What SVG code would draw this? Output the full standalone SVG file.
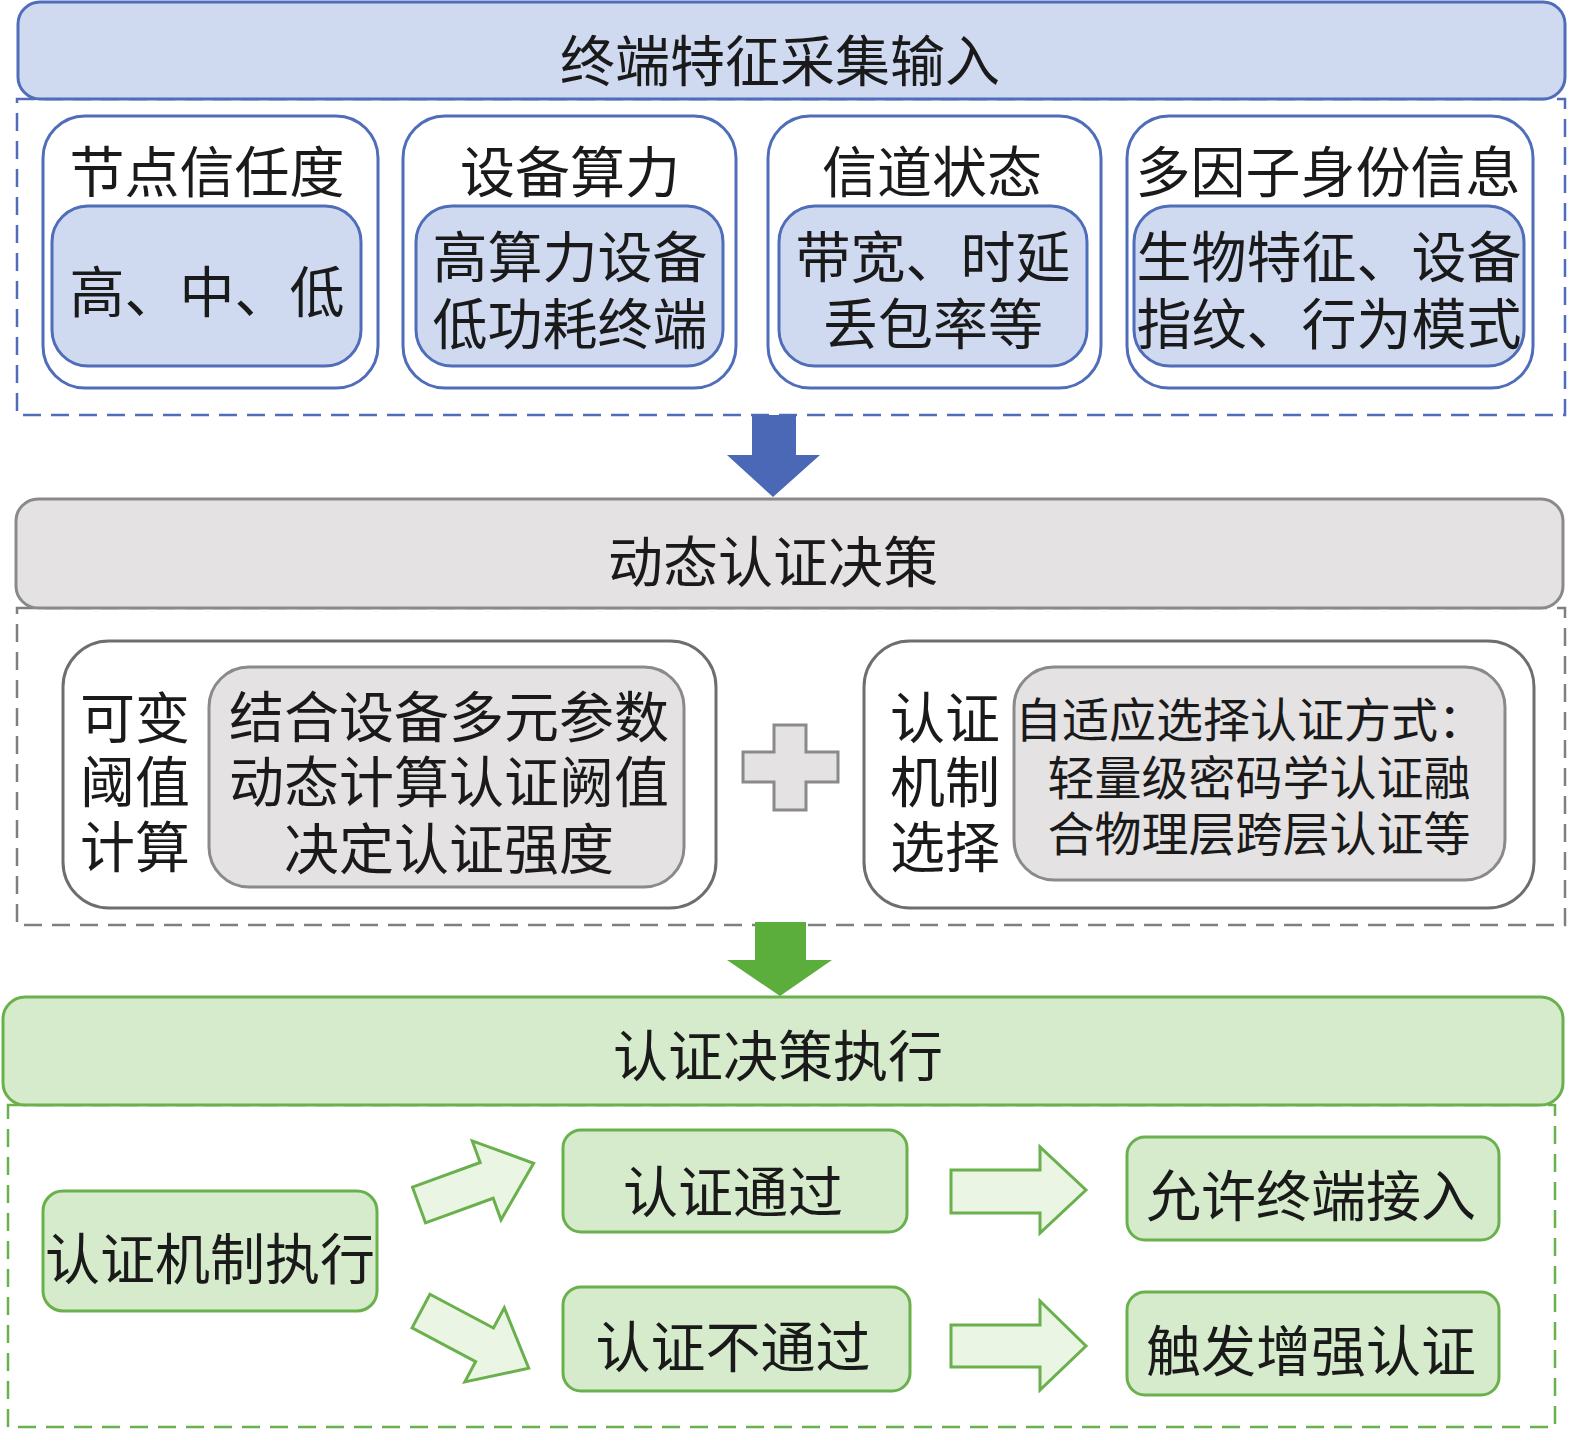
<svg xmlns="http://www.w3.org/2000/svg" width="1575" height="1435" viewBox="0 0 1575 1435">
<style>
text{font-family:"Noto Sans CJK SC","Noto Sans",sans-serif;fill:#1a1a1a;text-anchor:middle;dominant-baseline:central}
.t55{font-size:55px}
.t48{font-size:47px}
.bhead{fill:#cfdaf0;stroke:#4f6db8;stroke-width:3}
.bout{fill:#ffffff;stroke:#4f6db8;stroke-width:3}
.bin{fill:#cfdaf0;stroke:#4f6db8;stroke-width:3}
.bdash{fill:none;stroke:#4f6db8;stroke-width:2.5;stroke-dasharray:18 10}
.ghead{fill:#e4e2e2;stroke:#8a8a8a;stroke-width:3}
.gout{fill:#ffffff;stroke:#6e6e6e;stroke-width:3}
.gin{fill:#e4e2e2;stroke:#8a8a8a;stroke-width:3}
.gdash{fill:none;stroke:#7f7f7f;stroke-width:2.5;stroke-dasharray:18 10}
.nhead{fill:#d5ebcb;stroke:#6ab04c;stroke-width:3}
.nbox{fill:#d5ebcb;stroke:#6ab04c;stroke-width:3}
.ndash{fill:none;stroke:#6ab04c;stroke-width:2.5;stroke-dasharray:18 10}
.narrow{fill:#eaf5e4;stroke:#6ab04c;stroke-width:3}
</style>

<!-- Section 1 -->
<g id="section1">
<rect class="bdash" x="17" y="99" width="1548" height="316"/>
<g id="header1"><rect class="bhead" x="18" y="2" width="1547" height="97" rx="22"/><text class="t55" x="780" y="57">终端特征采集输入</text></g>
<g id="trust"><rect class="bout" x="43" y="116" width="335" height="272" rx="42"/><text class="t55" x="207" y="168">节点信任度</text>
<rect class="bin" x="52" y="206" width="309" height="160" rx="36"/><text class="t55" x="207" y="288">高、中、低</text></g>
<g id="compute"><rect class="bout" x="403" y="116" width="333" height="272" rx="42"/><text class="t55" x="570" y="168">设备算力</text>
<rect class="bin" x="416" y="206" width="307" height="160" rx="36"/><text class="t55" x="570" y="253">高算力设备</text><text class="t55" x="570" y="320">低功耗终端</text></g>
<g id="channel"><rect class="bout" x="768" y="116" width="333" height="272" rx="42"/><text class="t55" x="932" y="168">信道状态</text>
<rect class="bin" x="779" y="206" width="308" height="160" rx="36"/><text class="t55" x="933" y="253">带宽、时延</text><text class="t55" x="933" y="320">丢包率等</text></g>
<g id="identity"><rect class="bout" x="1127" y="116" width="406" height="272" rx="42"/><text class="t55" x="1328" y="168">多因子身份信息</text>
<rect class="bin" x="1134" y="206" width="390" height="160" rx="36"/><text class="t55" x="1329" y="253">生物特征、设备</text><text class="t55" x="1329" y="320">指纹、行为模式</text></g>
</g>

<!-- Section 2 -->
<g id="section2">
<rect class="gdash" x="17" y="608" width="1548" height="317"/>
<g id="header2"><rect class="ghead" x="16" y="499" width="1547" height="109" rx="22"/><text class="t55" x="773" y="558">动态认证决策</text></g>
<g id="threshold"><rect class="gout" x="63" y="641" width="653" height="267" rx="46"/>
<text class="t55" x="135" y="714">可变</text><text class="t55" x="135" y="778">阈值</text><text class="t55" x="135" y="843">计算</text>
<rect class="gin" x="209" y="667" width="475" height="220" rx="40"/>
<text class="t55" x="449" y="713">结合设备多元参数</text><text class="t55" x="449" y="778">动态计算认证阙值</text><text class="t55" x="449" y="845">决定认证强度</text></g>
<g id="plus"><path d="M774,725 H806 V752 H838 V782 H806 V810 H774 V782 H743 V752 H774 Z" fill="#e4e2e2" stroke="#8a8a8a" stroke-width="3"/></g>
<g id="mechanism"><rect class="gout" x="864" y="641" width="670" height="267" rx="46"/>
<text class="t55" x="945" y="714">认证</text><text class="t55" x="945" y="778">机制</text><text class="t55" x="945" y="843">选择</text>
<rect class="gin" x="1014" y="667" width="491" height="213" rx="40"/>
<text class="t48" x="1250" y="716">自适应选择认证方式：</text><text class="t48" x="1259" y="774">轻量级密码学认证融</text><text class="t48" x="1259" y="830">合物理层跨层认证等</text></g>
</g>

<!-- Section 3 -->
<g id="section3">
<rect class="ndash" x="8" y="1105" width="1547" height="322"/>
<g id="header3"><rect class="nhead" x="3" y="997" width="1560" height="108" rx="22"/><text class="t55" x="778" y="1052">认证决策执行</text></g>
<g id="exec"><rect class="nbox" x="43" y="1191" width="334" height="120" rx="20"/><text class="t55" x="210" y="1255">认证机制执行</text></g>
<g id="pass"><rect class="nbox" x="563" y="1130" width="344" height="102" rx="18"/><text class="t55" x="733" y="1188">认证通过</text></g>
<g id="fail"><rect class="nbox" x="563" y="1287" width="347" height="104" rx="18"/><text class="t55" x="733" y="1343">认证不通过</text></g>
<g id="allow"><rect class="nbox" x="1127" y="1137" width="372" height="103" rx="18"/><text class="t55" x="1311" y="1192">允许终端接入</text></g>
<g id="enhance"><rect class="nbox" x="1127" y="1292" width="372" height="103" rx="18"/><text class="t55" x="1311" y="1347">触发增强认证</text></g>
</g>

<!-- Connectors -->
<g id="connectors">
<polygon points="752,415 796,415 796,455 820,455 773,497 727,455 752,455" fill="#4a68b5"/>
<polygon points="755,922 806,922 806,960 832,960 780,996 727,960 755,960" fill="#5cae3c"/>
<polygon class="narrow" transform="translate(419,1205) rotate(-20)" points="0,-19 72,-19 72,-42 122,0 72,42 72,19 0,19"/>
<polygon class="narrow" transform="translate(421,1311) rotate(28)" points="0,-19 72,-19 72,-42 122,0 72,42 72,19 0,19"/>
<polygon class="narrow" points="951,1170 1040,1170 1040,1147 1086,1190 1040,1233 1040,1213 951,1213"/>
<polygon class="narrow" points="951,1325 1040,1325 1040,1301 1086,1346 1040,1390 1040,1367 951,1367"/>
</g>
</svg>
